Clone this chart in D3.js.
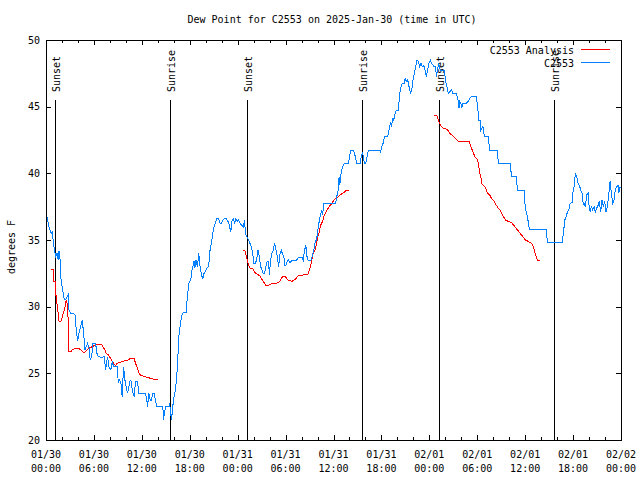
<!DOCTYPE html>
<html><head><meta charset="utf-8">
<script src="https://cdn.jsdelivr.net/npm/d3@7"></script>
<style>body{margin:0;background:#fff}svg text{font-family:"DejaVu Sans Mono",monospace;font-size:10px;fill:#000}</style>
</head><body>
<svg id="c" width="640" height="480"></svg>
<script>
const chartTitle = "Dew Point for C2553 on 2025-Jan-30 (time in UTC)";
const yLabel = "degrees F";
const yTicks = [20, 25, 30, 35, 40, 45, 50];
const xMajorHours = [0, 6, 12, 18, 24, 30, 36, 42, 48, 54, 60, 66, 72];
const xMinorHours = [2,4,8,10,14,16,20,22,26,28,32,34,38,40,44,46,50,52,56,58,62,64,68,70];
const xTickDates = ["01/30","01/30","01/30","01/30","01/31","01/31","01/31","01/31","02/01","02/01","02/01","02/01","02/02"];
const xTickTimes = ["00:00","06:00","12:00","18:00","00:00","06:00","12:00","18:00","00:00","06:00","12:00","18:00","00:00"];
const sunNames = ["Sunset", "Sunrise", "Sunset", "Sunrise", "Sunset", "Sunrise"];
const sunHours = [1.17, 15.57, 25.2, 39.6, 49.23, 63.63];
const seriesNames = ["C2553 Analysis", "C2553"];
const seriesColors = ["#ff0000", "#0080ff"];

// observed (C2553)
const obsHours = [0.04,0.38,0.63,0.79,0.96,1.21,1.38,1.54,1.63,1.79,1.88,2.04,2.29,2.54,2.79,2.88,3.13,3.38,3.63,3.79,3.96,4.13,4.38,4.54,4.71,4.88,5.04,5.21,5.38,5.54,5.71,5.88,6.21,6.38,6.54,7.04,7.29,7.46,7.71,7.88,8.13,8.29,8.46,8.71,8.96,9.04,9.21,9.38,9.54,9.71,9.88,10.04,10.21,10.38,10.54,10.71,10.79,11.04,11.21,11.46,11.63,12.46,12.63,12.71,12.88,13.04,13.21,13.38,13.54,13.71,13.88,14.54,14.63,14.71,14.96,15.38,15.46,15.54,15.71,15.96,16.13,16.29,16.46,16.63,16.79,16.96,17.21,17.54,17.71,17.88,18.13,18.29,18.54,18.63,18.79,18.96,19.13,19.29,19.46,19.63,19.79,20.04,20.29,20.46,20.54,20.71,20.88,21.04,21.21,21.38,21.63,21.79,21.96,22.13,22.38,22.54,22.79,22.96,23.13,23.29,23.46,23.63,23.79,23.96,24.13,24.29,24.54,24.71,24.88,24.96,25.13,25.38,25.54,25.71,25.88,26.04,26.21,26.38,26.54,26.71,26.88,27.04,27.21,27.38,27.54,27.71,27.88,27.96,28.13,28.29,28.46,28.63,28.79,28.96,29.13,29.29,29.46,29.63,29.79,29.88,30.04,30.21,30.38,30.54,30.71,30.88,31.38,31.63,32.04,32.21,32.38,32.54,32.63,32.79,33.04,33.21,33.38,33.54,33.71,33.88,34.04,34.21,34.38,34.54,34.63,34.79,36.29,36.38,36.54,36.71,36.79,36.88,37.04,37.21,37.38,37.88,38.04,38.21,38.46,38.63,38.79,38.88,39.38,39.46,39.63,39.88,40.04,40.21,40.38,41.79,41.88,42.04,42.21,42.38,42.79,42.96,43.13,43.29,43.38,43.54,43.71,43.88,44.13,44.29,44.46,44.63,44.88,44.96,45.13,45.29,45.46,45.63,45.79,45.96,46.13,46.29,46.46,46.63,46.79,46.96,47.13,47.29,47.46,47.63,47.79,47.96,48.13,48.29,48.46,48.63,48.79,48.88,49.04,49.13,49.38,49.88,50.04,50.29,50.38,50.79,50.96,51.38,51.54,51.63,51.71,51.79,51.96,52.04,52.21,52.63,52.88,53.04,53.29,53.63,53.88,54.04,54.21,54.38,54.46,54.71,54.79,54.88,55.38,55.46,55.54,56.54,56.63,58.13,58.21,58.29,58.88,59.04,59.88,59.96,60.13,60.29,60.46,60.63,62.63,62.79,64.63,64.79,64.96,65.13,65.29,65.46,65.63,65.88,65.96,66.13,66.29,66.46,66.63,66.79,66.96,67.13,67.29,67.38,67.54,67.71,67.88,67.96,68.13,68.29,68.46,68.63,68.79,68.96,69.13,69.29,69.46,69.63,69.79,69.96,70.13,70.29,70.46,70.63,70.79,70.96,71.13,71.29,71.46,71.63,71.71,71.9];
const obsValues = [37.0,36.0,35.5,35.6,34.6,33.75,34.0,33.5,34.2,33.4,32.1,31.4,30.5,30.6,30.9,29.75,29.5,29.5,29.4,28.25,27.4,28.0,28.6,29.0,28.0,26.75,27.0,27.25,26.9,26.0,26.25,27.25,27.25,26.5,26.25,26.2,26.25,25.25,26.25,25.5,25.25,25.9,25.5,25.5,25.5,24.25,24.5,24.25,23.25,25.5,24.5,24.0,23.5,24.0,24.5,24.4,23.75,23.25,24.4,24.4,23.5,23.5,23.0,22.5,23.5,23.0,23.0,23.5,23.5,23.0,22.5,22.5,22.5,21.5,22.5,22.5,22.75,22.4,21.5,23.0,23.5,24.25,25.5,27.75,28.5,29.25,29.6,29.6,30.75,31.75,32.0,32.75,33.4,32.9,33.5,33.0,34.0,33.0,32.4,32.1,32.5,32.75,33.0,33.5,34.25,34.75,35.5,36.0,36.25,36.6,36.6,36.25,36.25,36.5,36.6,36.6,36.4,36.1,35.6,36.4,36.6,36.3,36.6,36.4,36.5,36.25,36.1,36.0,36.5,35.5,35.25,35.0,34.75,34.5,34.0,33.25,33.25,33.5,34.25,33.75,33.0,32.75,32.5,32.5,33.0,33.4,33.4,32.4,33.5,34.0,34.25,34.8,34.25,33.75,33.0,33.9,34.25,33.9,33.75,33.1,33.1,33.4,33.5,33.3,33.4,33.5,33.5,33.7,33.7,33.5,34.25,34.6,33.9,33.5,33.45,33.5,33.9,34.25,34.9,35.0,35.75,36.4,36.9,37.25,36.9,37.75,37.75,38.25,38.5,39.75,39.1,39.75,40.25,40.6,40.75,40.75,41.4,41.75,41.75,41.5,41.1,40.75,40.75,41.25,41.6,40.75,40.75,41.25,41.75,41.75,41.5,42.0,42.25,42.75,42.75,43.25,43.75,43.5,44.1,44.0,44.5,44.75,44.75,46.0,46.5,46.75,46.75,47.1,46.9,47.0,46.5,46.0,46.25,47.0,47.5,48.0,48.5,48.4,48.0,48.25,48.0,48.1,47.75,47.25,47.75,48.25,48.5,48.25,48.1,48.0,48.0,47.25,47.75,48.25,47.75,47.75,46.9,46.25,46.0,46.25,46.0,46.0,45.6,45.4,44.9,45.4,45.25,44.9,45.25,45.25,45.4,45.6,45.75,45.75,45.75,45.0,44.0,44.0,43.25,43.5,43.25,42.75,42.75,42.25,41.75,41.75,40.75,40.75,40.25,39.75,39.75,38.75,38.75,37.75,37.1,36.75,36.0,35.75,35.8,34.8,34.8,35.5,36.5,36.75,37.1,37.25,37.75,37.8,38.5,39.0,40.0,39.75,39.25,39.1,38.75,38.5,37.6,37.75,37.5,38.4,38.5,37.75,37.1,37.5,37.25,37.5,37.1,37.4,37.6,37.9,37.1,38.0,37.5,37.9,37.1,37.5,38.4,39.4,38.5,37.75,38.0,38.75,39.0,39.1,38.5,39.0];

// analysis (C2553 Analysis); null marks a gap
const anaHours = [0.63,0.88,0.96,1.13,1.21,1.29,1.46,1.63,1.88,2.04,2.21,2.38,2.54,2.71,2.79,2.88,3.13,3.29,3.71,4.04,4.38,4.63,4.88,5.13,5.46,5.79,6.13,6.54,6.96,7.13,7.38,7.54,7.79,7.96,8.21,8.46,8.71,8.88,9.21,9.63,9.96,10.29,10.54,10.79,11.04,11.21,11.46,11.71,11.96,12.29,12.71,13.21,13.63,14.04,
  20,
  24.63,24.88,25.04,25.21,25.38,25.54,25.88,26.13,26.29,26.54,26.79,26.96,27.21,27.38,27.54,27.88,28.21,28.54,28.79,29.04,29.29,29.54,29.79,30.04,30.29,30.54,30.79,31.04,31.29,31.54,31.96,32.38,32.79,32.96,33.13,33.29,33.46,33.71,33.88,34.04,34.21,34.38,34.63,34.79,34.96,35.21,35.46,35.8,36.04,36.29,36.63,36.88,37.13,37.38,37.63,37.88,
  44,
  48.63,48.96,49.13,49.38,49.71,50.04,50.29,50.54,50.79,51.04,51.29,51.63,52.96,53.21,53.46,53.71,53.96,54.13,54.29,54.46,54.54,54.79,55.04,55.29,55.54,55.79,56.13,56.38,56.63,56.88,57.04,57.29,57.54,57.88,58.29,58.71,59.04,59.38,59.71,60.04,60.38,60.79,61.04,61.21,61.38,61.54,61.88];
const anaValues = [32.8,32.8,31.9,31.9,31.25,30.5,29.9,28.9,28.9,29.25,29.6,30.0,30.5,30.1,28.6,26.6,26.65,26.75,26.9,26.9,26.75,26.6,26.6,26.75,26.9,27.0,27.1,27.2,27.2,27.0,26.75,26.5,26.4,26.25,26.0,25.75,25.6,25.75,25.8,25.9,25.95,26.0,26.1,26.15,26.1,25.75,25.4,24.9,24.85,24.75,24.7,24.6,24.55,24.55,
  null,
  34.25,34.25,33.9,33.5,33.1,32.9,32.9,32.6,32.5,32.4,32.3,32.1,31.9,31.75,31.6,31.6,31.7,31.75,31.75,31.8,31.9,32.2,32.3,32.2,32.0,31.95,31.9,32.0,32.1,32.3,32.35,32.4,32.4,32.75,33.0,33.5,34.0,34.25,34.75,35.25,35.6,36.1,36.4,36.75,37.0,37.25,37.5,37.75,38.0,38.1,38.25,38.4,38.5,38.6,38.75,38.75,
  null,
  44.35,44.3,44.0,43.6,43.4,43.35,43.25,43.0,42.9,42.75,42.6,42.4,42.4,42.0,41.6,41.25,41.1,40.75,40.1,39.75,39.25,39.1,38.9,38.5,38.4,38.1,37.9,37.6,37.4,37.25,37.0,36.75,36.5,36.4,36.3,36.0,35.75,35.5,35.25,35.0,34.9,34.75,34.5,34.1,33.75,33.45,33.45];

const svg = d3.select("#c");
const L = 46, R = 621, T = 40, B = 440;
const x = d3.scaleLinear().domain([0, 72]).range([L, R]);
const y = d3.scaleLinear().domain([20, 50]).range([B, T]);

// title
svg.append("text").attr("x", 332).attr("y", 23).attr("text-anchor", "middle").text(chartTitle);

// sunrise / sunset markers
sunHours.forEach((h, i) => {
  const px = Math.round(x(h)) + 0.5;
  svg.append("line").attr("x1", px).attr("x2", px).attr("y1", 100).attr("y2", B)
    .attr("stroke", "#000").attr("stroke-width", 1).attr("shape-rendering", "crispEdges");
  svg.append("text").attr("transform", `translate(${px + 4.5},92) rotate(-90)`).text(sunNames[i]);
});

// lines
const obsData = obsHours.map((h, i) => ({ h, v: obsValues[i] }));
const anaData = anaHours.map((h, i) => ({ h, v: anaValues[i] }));
const line = d3.line().defined(d => d.v != null).x(d => x(d.h)).y(d => y(d.v));
svg.append("path").datum(anaData).attr("d", line).attr("fill", "none")
  .attr("stroke", seriesColors[0]).attr("stroke-width", 1).attr("shape-rendering", "crispEdges");
svg.append("path").datum(obsData).attr("d", line).attr("fill", "none")
  .attr("stroke", seriesColors[1]).attr("stroke-width", 1).attr("shape-rendering", "crispEdges");

// axes (ticks inward, mirrored)
function styleAxis(g) {
  g.select(".domain").remove();
  g.selectAll("line").attr("stroke", "#000").attr("shape-rendering", "crispEdges");
  g.selectAll("text").remove();
}
svg.append("g").attr("transform", `translate(0,${B})`).call(d3.axisBottom(x).tickValues(xMajorHours).tickSize(-5)).call(styleAxis);
svg.append("g").attr("transform", `translate(0,${B})`).call(d3.axisBottom(x).tickValues(xMinorHours).tickSize(-3)).call(styleAxis);
svg.append("g").attr("transform", `translate(0,${T})`).call(d3.axisTop(x).tickValues(xMajorHours).tickSize(-5)).call(styleAxis);
svg.append("g").attr("transform", `translate(0,${T})`).call(d3.axisTop(x).tickValues(xMinorHours).tickSize(-3)).call(styleAxis);
svg.append("g").attr("transform", `translate(${L},0)`).call(d3.axisLeft(y).tickValues(yTicks).tickSize(-5)).call(styleAxis);
svg.append("g").attr("transform", `translate(${R},0)`).call(d3.axisRight(y).tickValues(yTicks).tickSize(-5)).call(styleAxis);

// border
svg.append("rect").attr("x", L + 0.5).attr("y", T + 0.5).attr("width", R - L).attr("height", B - T)
  .attr("fill", "none").attr("stroke", "#000").attr("shape-rendering", "crispEdges");

// tick labels
yTicks.forEach(v => {
  svg.append("text").attr("x", 40).attr("y", y(v) + 3.5).attr("text-anchor", "end").text(v);
});
xMajorHours.forEach((h, i) => {
  svg.append("text").attr("x", x(h)).attr("y", 458).attr("text-anchor", "middle").text(xTickDates[i]);
  svg.append("text").attr("x", x(h)).attr("y", 472).attr("text-anchor", "middle").text(xTickTimes[i]);
});
svg.append("text").attr("transform", "translate(15,247) rotate(-90)").attr("text-anchor", "middle").text(yLabel);

// legend
seriesNames.forEach((n, i) => {
  const ly = 49.5 + i * 13;
  svg.append("text").attr("x", 574).attr("y", ly + 4).attr("text-anchor", "end").text(n);
  svg.append("line").attr("x1", 581).attr("x2", 610).attr("y1", ly).attr("y2", ly)
    .attr("stroke", seriesColors[i]).attr("shape-rendering", "crispEdges");
});
</script>
</body></html>
